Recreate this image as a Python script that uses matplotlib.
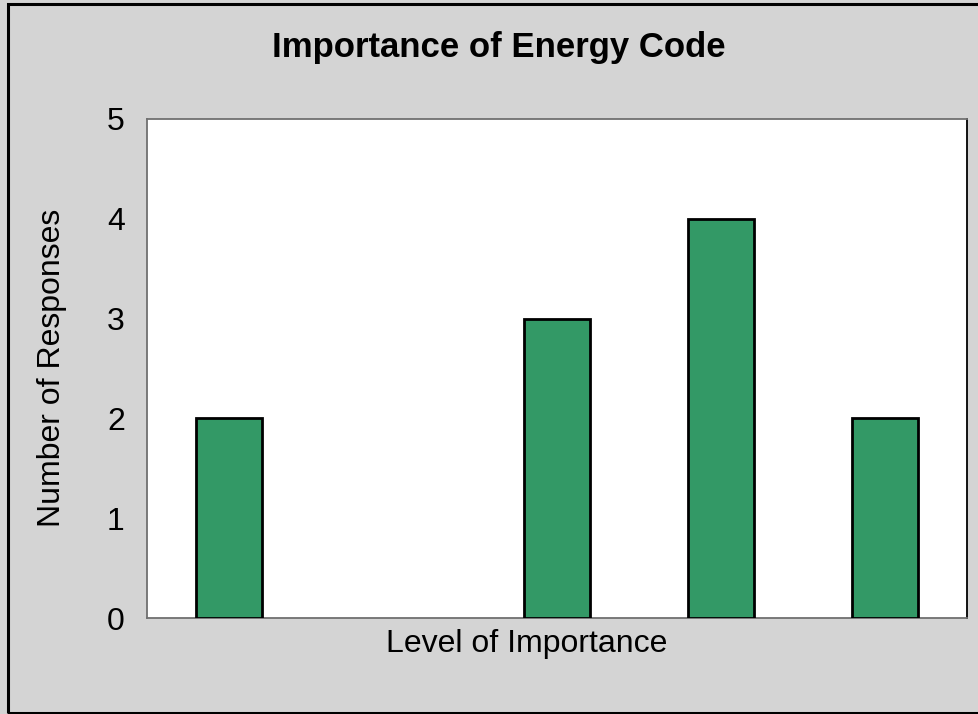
import matplotlib
matplotlib.use("Agg")
import matplotlib.pyplot as plt
from matplotlib.patches import Rectangle

categories = ["1", "2", "3", "4", "5"]
values = [2, 0, 3, 4, 2]
yticks = [0, 1, 2, 3, 4, 5]

plt.rcParams['font.family'] = ['Liberation Sans', 'DejaVu Sans']

W, H = 979, 714
fig = plt.figure(figsize=(W / 100, H / 100), dpi=100)
fig.patch.set_facecolor('#d4d4d4')

# figure border
fig.patches.append(Rectangle((8 / W, 1 - 713 / H), 1.2, (713 - 4) / H,
                             transform=fig.transFigure, fill=False,
                             edgecolor='black', linewidth=2.2, zorder=10))

left, right, top, bottom = 147, 967, 119, 618
ax = fig.add_axes([left / W, 1 - bottom / H, (right - left) / W, (bottom - top) / H])
ax.set_facecolor('white')

x = list(range(len(categories)))
lws = [2 if v > 0 else 0 for v in values]
ax.bar(x, values, width=0.4, color='#339966', edgecolor='black', linewidth=lws, zorder=3)
ax.set_xlim(-0.5, len(categories) - 0.5)
ax.set_ylim(0, 5)
ax.set_yticks(yticks)
ax.set_yticklabels([str(t) for t in yticks], fontsize=23)
ax.tick_params(axis='y', length=0, pad=16)
ax.set_xticks([])
for s in ['left', 'top', 'bottom']:
    ax.spines[s].set_color('#707070')
    ax.spines[s].set_linewidth(1.3)
ax.spines['right'].set_color('black')
ax.spines['right'].set_linewidth(1.3)

fig.text(499 / W, 1 - 48 / H, 'Importance of Energy Code', ha='center', va='center',
         fontsize=25, fontweight='bold')
fig.text(52 / W, 1 - 368 / H, 'Number of Responses', ha='center', va='center',
         rotation=90, fontsize=23)
fig.text(527 / W, 1 - 644 / H, 'Level of Importance', ha='center', va='center',
         fontsize=23)

fig.savefig('out.png', dpi=100, facecolor=fig.get_facecolor())
